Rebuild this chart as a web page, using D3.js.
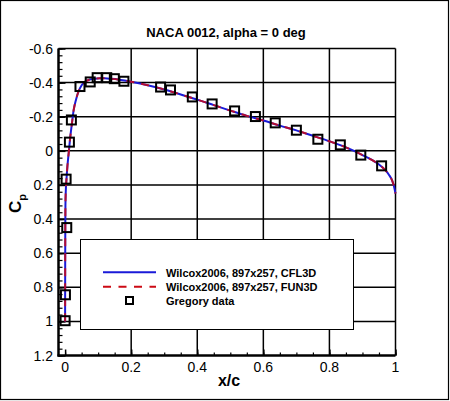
<!DOCTYPE html>
<html>
<head>
<meta charset="utf-8">
<script src="https://cdn.jsdelivr.net/npm/d3@7"></script>
<style>
  body { margin: 0; background: #fff; }
  svg { display: block; font-family: "Liberation Sans", Arial, sans-serif; }
</style>
</head>
<body>
<svg id="chart"></svg>
<script>
// chart values
const curveX = [0, 0.0001, 0.0003, 0.0006, 0.001, 0.002, 0.004, 0.007, 0.011, 0.015, 0.02, 0.026,
    0.033, 0.04, 0.05, 0.06, 0.075, 0.09, 0.105, 0.12, 0.14, 0.16, 0.18, 0.2, 0.25, 0.3, 0.35, 0.4,
    0.45, 0.5, 0.55, 0.6, 0.65, 0.7, 0.75, 0.8, 0.85, 0.9, 0.93, 0.95, 0.97, 0.98, 0.99, 0.995, 1.0];
const cpCFL3D = [1.0, 0.85, 0.65, 0.45, 0.32, 0.24, 0.17, 0.09, 0.01, -0.07, -0.15, -0.24,
    -0.30, -0.345, -0.385, -0.405, -0.418, -0.423, -0.425, -0.425, -0.422, -0.418, -0.412, -0.405,
    -0.385, -0.36, -0.33, -0.30, -0.268, -0.236, -0.205, -0.178, -0.148, -0.12, -0.088, -0.056,
    -0.02, 0.025, 0.055, 0.08, 0.115, 0.14, 0.175, 0.205, 0.25];
const cpFUN3D = [1.0, 0.85, 0.65, 0.45, 0.32, 0.24, 0.17, 0.09, 0.01, -0.07, -0.15, -0.24,
    -0.30, -0.345, -0.385, -0.405, -0.418, -0.423, -0.425, -0.425, -0.422, -0.418, -0.412, -0.405,
    -0.385, -0.36, -0.33, -0.30, -0.268, -0.236, -0.205, -0.178, -0.148, -0.12, -0.088, -0.056,
    -0.02, 0.025, 0.055, 0.08, 0.115, 0.14, 0.175, 0.205, 0.25];
const expX = [0, 0.001, 0.005, 0.003, 0.013, 0.019, 0.045, 0.076, 0.097, 0.126, 0.149, 0.178,
    0.289, 0.319, 0.385, 0.445, 0.513, 0.576, 0.636, 0.700, 0.765, 0.833, 0.895, 0.958];
const expCp = [0.996, 0.844, 0.450, 0.166, -0.051, -0.181, -0.377, -0.404, -0.429, -0.429, -0.423, -0.408,
    -0.374, -0.357, -0.316, -0.275, -0.234, -0.201, -0.164, -0.121, -0.068, -0.035, 0.025, 0.088];
const seriesNames = ["Wilcox2006, 897x257, CFL3D", "Wilcox2006, 897x257, FUN3D", "Gregory data"];
const xTicks = [0, 0.2, 0.4, 0.6, 0.8, 1];
const yTicks = [-0.6, -0.4, -0.2, 0, 0.2, 0.4, 0.6, 0.8, 1, 1.2];

const W = 450, H = 401;
const svg = d3.select("#chart").attr("width", W).attr("height", H);

// outer frame
svg.append("rect")
    .attr("x", 0.5).attr("y", 0.5).attr("width", 448).attr("height", 399)
    .attr("fill", "none").attr("stroke", "#000").attr("stroke-width", 1.2);

const plot = { left: 58.5, right: 395.5, top: 48.5, bottom: 355.5 };

const x = d3.scaleLinear().domain([-0.02, 1]).range([plot.left, plot.right]);
const y = d3.scaleLinear().domain([-0.6, 1.2]).range([plot.top, plot.bottom]);

// grid lines (top and right frame are the last ones)
const grid = svg.append("g").attr("class", "grid");
grid.selectAll(".gv")
  .data(xTicks.filter(d => d > 0))
  .join("line")
    .attr("class", "gv")
    .attr("x1", d => x(d)).attr("x2", d => x(d))
    .attr("y1", plot.top).attr("y2", plot.bottom)
    .attr("stroke", "#000").attr("stroke-width", 1.5);
grid.selectAll(".gh")
  .data(yTicks.filter(d => d < 1.2))
  .join("line")
    .attr("class", "gh")
    .attr("x1", plot.left).attr("x2", plot.right)
    .attr("y1", d => y(d)).attr("y2", d => y(d))
    .attr("stroke", "#000").attr("stroke-width", 1.5);

// minor / major ticks pointing inward
function styleTicks(g, w) {
    g.select(".domain").remove();
    g.selectAll(".tick line").attr("stroke", "#000").attr("stroke-width", w);
}
svg.append("g").attr("transform", `translate(0,${plot.bottom})`)
    .call(d3.axisTop(x).tickValues(d3.range(0, 1.0001, 0.05)).tickSize(3).tickFormat(""))
    .call(g => styleTicks(g, 1.2));
svg.append("g").attr("transform", `translate(0,${plot.bottom})`)
    .call(d3.axisTop(x).tickValues(xTicks).tickSize(6).tickFormat(""))
    .call(g => styleTicks(g, 1.5));
svg.append("g").attr("transform", `translate(${plot.left},0)`)
    .call(d3.axisRight(y).tickValues(d3.range(-0.6, 1.2001, 0.04)).tickSize(4).tickFormat(""))
    .call(g => styleTicks(g, 1.2));
svg.append("g").attr("transform", `translate(${plot.left},0)`)
    .call(d3.axisRight(y).tickValues(yTicks).tickSize(7).tickFormat(""))
    .call(g => styleTicks(g, 1.5));

// thick axis lines
svg.append("line").attr("x1", plot.left).attr("x2", plot.left)
    .attr("y1", plot.top).attr("y2", plot.bottom + 1)
    .attr("stroke", "#000").attr("stroke-width", 2.5);
svg.append("line").attr("x1", plot.left - 1).attr("x2", plot.right)
    .attr("y1", plot.bottom).attr("y2", plot.bottom)
    .attr("stroke", "#000").attr("stroke-width", 2.5);

// tick labels
const fmt = d => String(+d.toFixed(1));
svg.append("g").selectAll("text").data(xTicks).join("text")
    .attr("x", d => x(d)).attr("y", plot.bottom + 16)
    .attr("text-anchor", "middle").attr("font-size", 14)
    .text(fmt);
svg.append("g").selectAll("text").data(yTicks).join("text")
    .attr("x", 53).attr("y", d => y(d) + 5)
    .attr("text-anchor", "end").attr("font-size", 14)
    .text(fmt);

// titles
svg.append("text").attr("x", 226).attr("y", 37)
    .attr("text-anchor", "middle").attr("font-size", 13).attr("font-weight", "bold")
    .text("NACA 0012, alpha = 0 deg");
svg.append("text").attr("x", 229).attr("y", 386)
    .attr("text-anchor", "middle").attr("font-size", 16).attr("font-weight", "bold")
    .text("x/c");
const yl = svg.append("text").attr("transform", "translate(21,213) rotate(-90)")
    .attr("font-weight", "bold").attr("font-size", 17);
yl.append("tspan").text("C");
yl.append("tspan").attr("font-size", 11).attr("dy", 5).text("p");

// curves: CFL3D solid blue, FUN3D dashed red on top
const cpLine = d3.line().x(d => x(d[0])).y(d => y(d[1])).curve(d3.curveMonotoneX);
svg.append("path").datum(d3.zip(curveX, cpCFL3D))
    .attr("d", cpLine).attr("fill", "none")
    .attr("stroke", "#1a1ad8").attr("stroke-width", 2);
svg.append("path").datum(d3.zip(curveX, cpFUN3D))
    .attr("d", cpLine).attr("fill", "none")
    .attr("stroke", "#cc0a14").attr("stroke-width", 2).attr("stroke-dasharray", "8,7")
    .attr("opacity", 0.85);

// experimental squares
const sq = 9;
svg.append("g").selectAll("rect").data(d3.zip(expX, expCp)).join("rect")
    .attr("x", d => x(d[0]) - sq / 2).attr("y", d => y(d[1]) - sq / 2)
    .attr("width", sq).attr("height", sq)
    .attr("fill", "none").attr("stroke", "#000").attr("stroke-width", 2);

// legend
const lg = svg.append("g");
lg.append("rect").attr("x", 80.5).attr("y", 239.5).attr("width", 273).attr("height", 90)
    .attr("fill", "#fff").attr("stroke", "#000").attr("stroke-width", 1);
const rows = [272.3, 286.7, 300.5];
lg.append("line").attr("x1", 103).attr("x2", 156).attr("y1", rows[0]).attr("y2", rows[0])
    .attr("stroke", "#1a1ad8").attr("stroke-width", 2);
lg.append("line").attr("x1", 103).attr("x2", 156).attr("y1", rows[1]).attr("y2", rows[1])
    .attr("stroke", "#cc0a14").attr("stroke-width", 2).attr("stroke-dasharray", "8,7.5");
lg.append("rect").attr("x", 126).attr("y", rows[2] - 3.5).attr("width", 7).attr("height", 7)
    .attr("fill", "none").attr("stroke", "#000").attr("stroke-width", 2);
lg.selectAll("text").data(seriesNames).join("text")
    .attr("x", 166).attr("y", (d, i) => rows[i] + 4.5)
    .attr("font-size", 11).attr("font-weight", "bold")
    .text(d => d);
</script>
</body>
</html>
